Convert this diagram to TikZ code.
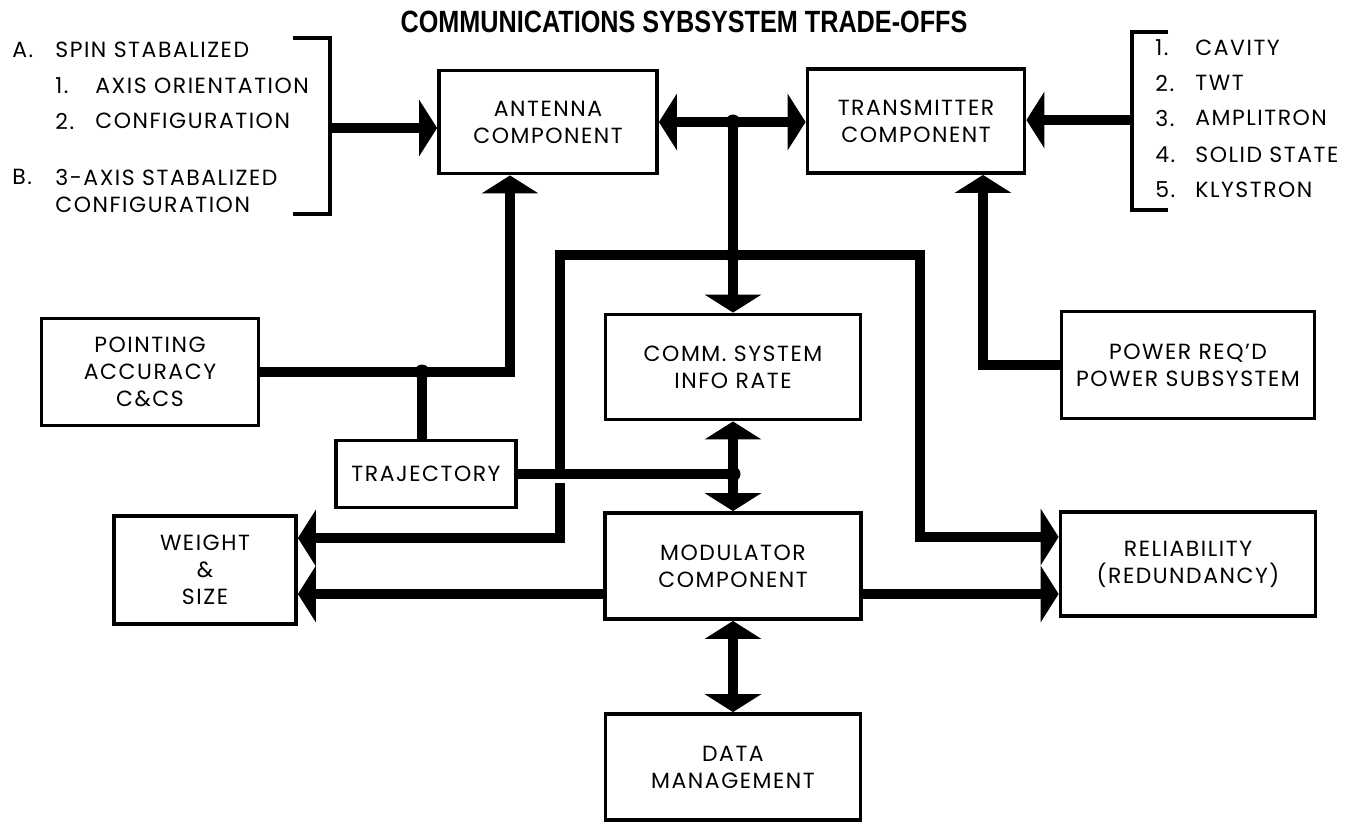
\documentclass[tikz,border=0pt]{standalone}
\usepackage{fontspec}
\setmainfont{Poppins}[LetterSpace=7]
\newfontfamily\titlefont[FakeStretch=0.82]{Liberation Sans}
\usepackage{tikz}
\usetikzlibrary{arrows.meta, positioning, calc}

\begin{document}
\begin{tikzpicture}[x=0.02cm, y=-0.02cm,
    >={Triangle[length=0.36cm, width=1.12cm]},
    blk/.style 2 args={draw, line width=2.2pt, align=center, minimum width=#1, minimum height=#2,
        font=\fontsize{12.5}{15.3}\selectfont},
    bus/.style={line width=5.6pt},
    brk/.style={line width=2pt},
    lst/.style={anchor=west, inner sep=0pt, font=\fontsize{12.5}{15}\selectfont},
    dot/.style={circle, fill, inner sep=0pt, minimum size=0.3cm}]

    \useasboundingbox (0,0) rectangle (1349,823);

    % Title
    \node (title) at (684,22) {\titlefont\bfseries\fontsize{17.5}{20}\selectfont COMMUNICATIONS SYBSYSTEM TRADE-OFFS};

    % --- Blocks ---
    \node[blk={4.36cm}{2.06cm}] (ant) at (548,122) {ANTENNA\\COMPONENT};
    \node[blk={4.34cm}{2.08cm}] (xmt) at (916,121) {TRANSMITTER\\COMPONENT};
    \node[blk={4.34cm}{2.14cm}] (pnt) at (150,372) {POINTING\\ACCURACY\\C\&CS};
    \node[blk={5.1cm}{2.1cm}] (com) at (733,367) {COMM. SYSTEM\\INFO RATE};
    \node[blk={5.06cm}{2.14cm}] (pwr) at (1188,365) {POWER REQ'D\\POWER SUBSYSTEM};
    \node[blk={3.6cm}{1.34cm}] (trj) at (426,474) {TRAJECTORY};
    \node[blk={3.64cm}{2.16cm}] (wgt) at (205,570) {WEIGHT\\\&\\SIZE};
    \node[blk={5.12cm}{2.12cm}] (mod) at (733,566) {MODULATOR\\COMPONENT};
    \node[blk={5.1cm}{2.08cm}] (rel) at (1188,564) {RELIABILITY\\(REDUNDANCY)};
    \node[blk={5.1cm}{2.12cm}] (dat) at (733,767) {DATA\\MANAGEMENT};

    % --- Antenna options (left list) ---
    \node[lst] (la) at (12,50) {A.};
    \node[lst] (la0) at (55,50) {SPIN STABALIZED};
    \node[lst] (la1) at (55,86) {1.};
    \node[lst] (la1t) at (95,86) {AXIS ORIENTATION};
    \node[lst] (la2) at (55,121) {2.};
    \node[lst] (la2t) at (95,121) {CONFIGURATION};
    \node[lst] (lb) at (12,177) {B.};
    \node[lst] (lb0) at (55,177) {3-AXIS STABALIZED};
    \node[lst] (lb1) at (55,205) {CONFIGURATION};

    % Left bracket
    \coordinate (lbt) at (293,38);
    \coordinate (lbb) at (293,214);
    \coordinate (lbm) at (330,128);
    \draw[brk] (lbt) -- (lbt -| lbm) -- (lbb -| lbm) -- (lbb);
    \draw[bus, ->] (lbm) -- (lbm -| ant.west);

    % --- Transmitter options (right list) ---
    \foreach \n/\t/\y in {1/CAVITY/48, 2/TWT/83, 3/AMPLITRON/118, 4/SOLID STATE/155, 5/KLYSTRON/190} {
        \node[lst] (rn\n) at (1155,\y) {\n.};
        \node[lst] (rt\n) at (1195,\y) {\t};
    }

    % Right bracket
    \coordinate (rbt) at (1168,32);
    \coordinate (rbb) at (1168,210);
    \coordinate (rbm) at (1132,120);
    \draw[brk] (rbt) -- (rbt -| rbm) -- (rbb -| rbm) -- (rbb);
    \draw[bus, ->] (rbm) -- (rbm -| xmt.east);

    % --- Main bus ---
    \coordinate (j1) at (ant.east -| com.north);
    \coordinate (j2) at (733,255);
    \coordinate (j3) at (733,474);
    \draw[bus, <->] (ant.east) -- (ant.east -| xmt.west);
    \draw[bus, ->] (j1) -- (com.north);
    \draw[bus, <->] (com.south) -- (mod.north);
    \draw[bus, <->] (mod.south) -- (dat.north);

    % Bus to reliability
    \coordinate (busr) at (920,255);
    \coordinate (relhi) at (920,537);
    \draw[bus, ->] (j2) -- (busr) -- (relhi) -- (relhi -| rel.west);

    % Bus to weight (hops over trajectory line)
    \coordinate (busl) at (560,255);
    \coordinate (hopt) at (560,469);
    \coordinate (hopb) at (560,483);
    \coordinate (wgthi) at (560,538);
    \draw[bus] (j2) -- (busl) -- (hopt);
    \draw[bus, ->] (hopb) -- (wgthi) -- (wgthi -| wgt.east);

    % Pointing and trajectory
    \coordinate (pj) at (422,372);
    \coordinate (pc) at (510,372);
    \draw[bus, ->] (pnt.east) -- (pc) -- (pc |- ant.south);
    \draw[bus] (pj) -- (pj |- trj.north);
    \draw[bus] (trj.east) -- (j3);

    % Power
    \coordinate (pwc) at (983,365);
    \draw[bus, ->] (pwr.west) -- (pwc) -- (pwc |- xmt.south);

    % Modulator outputs
    \coordinate (lomod) at (0,594);
    \draw[bus, ->] (mod.west |- lomod) -- (wgt.east |- lomod);
    \draw[bus, ->] (mod.east |- lomod) -- (rel.west |- lomod);

    % Junction dots
    \node[dot] (d1) at (j1) {};
    \node[dot] (d2) at (j2) {};
    \node[dot] (d3) at (j3) {};
    \node[dot] (d4) at (pj) {};

\end{tikzpicture}
\end{document}
